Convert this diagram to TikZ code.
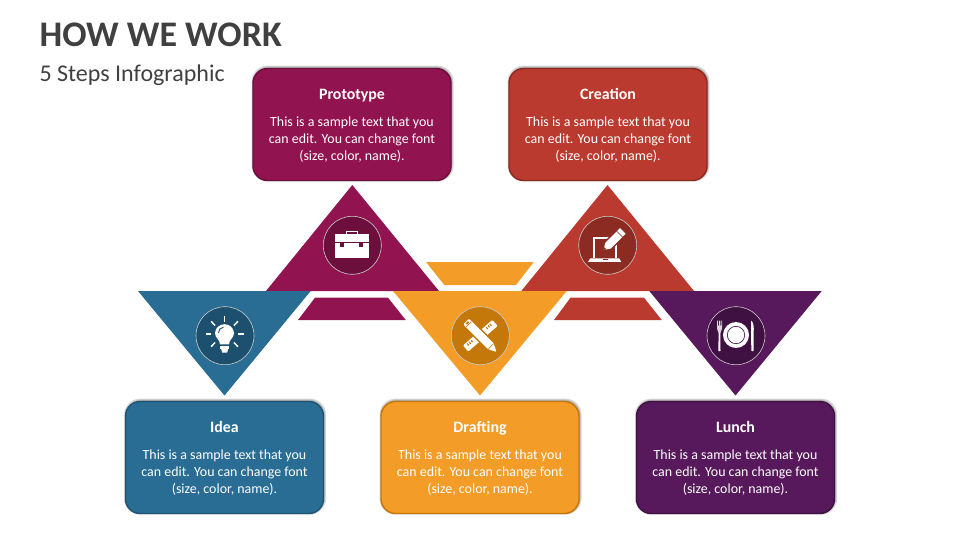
\documentclass[tikz,border=0pt]{standalone}
\usepackage{fontspec}
\setmainfont{Carlito}
\definecolor{cblue}{HTML}{296D95}\definecolor{dblue}{HTML}{1D506F}\definecolor{bblue}{HTML}{1F5472}
\definecolor{cmag}{HTML}{911450}\definecolor{dmag}{HTML}{6D0F3C}\definecolor{bmag}{HTML}{6D0F3C}
\definecolor{cred}{HTML}{BA3A2F}\definecolor{dred}{HTML}{8C2B22}\definecolor{bred}{HTML}{8C2B22}
\definecolor{corg}{HTML}{F39C27}\definecolor{dorg}{HTML}{C4780A}\definecolor{borg}{HTML}{C4780A}
\definecolor{cpur}{HTML}{57195B}\definecolor{dpur}{HTML}{3F1142}\definecolor{bpur}{HTML}{3F1142}
\definecolor{ink}{HTML}{404040}
\tikzset{
  x=0.75pt,y=-0.75pt,
  headline/.style={anchor=base west,text=ink,inner sep=0pt,font=\fontsize{27}{32}\selectfont\bfseries},
  subline/.style={anchor=base west,text=ink,inner sep=0pt,font=\fontsize{18}{22}\selectfont},
  card/.style={minimum width=148.5pt,minimum height=84pt,rounded corners=11pt,line width=1.1pt,inner sep=0pt},
  cardhalo/.style={fill=black,fill opacity=0.15,draw=none,rounded corners=12pt,inner sep=0pt},
  cardtitle/.style={anchor=base,text=white,inner sep=0pt,font=\fontsize{11.9}{14}\selectfont\bfseries},
  cardbody/.style={anchor=center,text=white,inner sep=0pt,align=center,font=\fontsize{10.45}{12.75}\selectfont},
  badge/.style={circle,minimum size=43.5pt,inner sep=0pt,draw=white!60!gray,line width=0.45pt},
  ray/.style={draw=white,line width=1.1pt,line cap=butt},
}
\newcommand{\stepcard}[7]{% name, cx, top, fill, border, title, title baseline offset
  \foreach \g in {2,1,0}
    \node[cardhalo,minimum width=148.5pt+1.5pt*\g,minimum height=84pt+1.5pt*\g] at ({#2+0.6},{#3+55.6}) {};
  \node[card,fill=#4,draw=#5] (#1) at (#2,{#3+56.5}) {};
  \node[cardtitle] (#1-title) at (#2,{#3+#7}) {#6};
  \node[cardbody] (#1-body) at (#2,{#3+72}) {This is a sample text that you\\can edit. You can change font\\(size, color, name).};
}
\begin{document}
\begin{tikzpicture}
\useasboundingbox (0,0) rectangle (960,540);
\fill[white] (0,0) rectangle (960,540);

\node[headline] (head) at (39.3,46) {HOW WE WORK};
\node[subline] (sub) at (39.3,81) {5 Steps Infographic};

% trapezoids
\fill[cmag] (315,297.7) -- (388,297.7) -- (405.7,320) -- (298,320) -- cycle;
\fill[corg] (426,262) -- (533.7,262) -- (516,285) -- (444.3,285) -- cycle;
\fill[cred] (570.5,297.7) -- (644,297.7) -- (661.7,320) -- (554,320) -- cycle;

% triangles
\fill[cmag] (352.3,185) -- (439,291) -- (266,291) -- cycle;
\fill[cred] (607.5,185) -- (694,291) -- (521.3,291) -- cycle;
\fill[cblue] (138,291) -- (310.7,291) -- (224.5,395.5) -- cycle;
\fill[corg] (393,291) -- (566.7,291) -- (480,395.5) -- cycle;
\fill[cpur] (649.3,291) -- (821.7,291) -- (735.5,395.5) -- cycle;

% cards
\stepcard{proto}{352}{68}{cmag}{bmag}{Prototype}{31}
\stepcard{creat}{608}{68}{cred}{bred}{Creation}{31.5}
\stepcard{idea}{224.5}{401}{cblue}{bblue}{Idea}{31.5}
\stepcard{draft}{480}{401}{corg}{borg}{Drafting}{31.5}
\stepcard{lunch}{735.5}{401}{cpur}{bpur}{Lunch}{31.5}

% badges
\node[badge,fill=dmag] (b-proto) at (352.3,245.3) {};
\node[badge,fill=dred] (b-creat) at (607.7,245.3) {};
\node[badge,fill=dblue] (b-idea) at (225,335.7) {};
\node[badge,fill=dorg] (b-draft) at (480.3,335.7) {};
\node[badge,fill=dpur] (b-lunch) at (736,335.7) {};

% bulb
\begin{scope}[shift={(b-idea.center)}]
  \foreach \a in {0,45,90,135,180,225,315}
    \draw[ray] ({-0.5+13.3*cos(\a)},{-1.7-12*sin(\a)}) -- ({-0.5+19*cos(\a)},{-1.7-18*sin(\a)});
  \fill[white] (-5,8.7) .. controls (-5,4) and (-10,2) .. (-10,-2.5)
     .. controls (-10,-8) and (-5,-11.5) .. (-0.5,-11.5)
     .. controls (4,-11.5) and (9,-8) .. (9,-2.5)
     .. controls (9,2) and (4,4) .. (4,8.7) -- cycle;
  \fill[white] (-4.7,10) rectangle (4,13);
  \fill[white] (-4,13) -- (3.3,13) -- (2,17) -- (-2.7,17) -- cycle;
  \draw[dblue,line width=0.7pt] (-6.5,-3) .. controls (-6.5,-6) and (-4.5,-8) .. (-1.5,-8.5);
\end{scope}

% briefcase
\begin{scope}[shift={(b-proto.center)}]
  \draw[white,line width=0.9pt] (-5.5,-11) rectangle (5.5,-14);
  \fill[white] (-17.3,-11.3) rectangle (17,12.7);
  \draw[dmag,line width=0.6pt] (-17.3,-2.6) -- (17,-2.6);
  \fill[dmag] (-12.3,-3) rectangle (-8.3,1.4);
  \fill[dmag] (6.7,-3) rectangle (10.7,1.4);
\end{scope}

% laptop and pencil
\begin{scope}[shift={(b-creat.center)}]
  \draw[white,line width=1.3pt] (3,-7) -- (-13.5,-7) -- (-13.5,13);
  \draw[white,line width=1.3pt] (8.5,-1) -- (8.5,13);
  \fill[white] (-17.5,13) -- (11.5,13) -- (13.5,16.5) -- (-19.5,16.5) -- cycle;
  \fill[dred] (-5,14) rectangle (0,15);
  \begin{scope}[shift={(-4,4.7)},rotate=45]
    \fill[dred] (-1,-5.5) rectangle (28,5.5);
    \fill[white] (0,0) -- (6,-4) -- (22,-4) -- (22,4) -- (6,4) -- cycle;
    \fill[white] (23,-4) rectangle (27,4);
    \fill[dred] (0,0) -- (2.5,-1.5) -- (2.5,1.5) -- cycle;
  \end{scope}
\end{scope}

% ruler and pencil
\begin{scope}[shift={(b-draft.center)}]
  \begin{scope}[rotate=41]
    \fill[white,rounded corners=0.8pt] (-19.5,-4) rectangle (19.5,4);
    \foreach \s in {-15,-12.5,-10,10,12.5,15}
      \fill[dorg] (\s-0.6,-2.6) rectangle (\s+0.6,-0.2);
  \end{scope}
  \begin{scope}[rotate=-45]
    \fill[dorg] (-15,-5.6) rectangle (16,5.6);
    \fill[white,rounded corners=0.8pt] (-20,-4) -- (15,-4) -- (23,0) -- (15,4) -- (-20,4) -- cycle;
    \fill[dorg] (-16.5,-3.6) rectangle (-15.8,3.6);
    \fill[dorg] (-19,-1.6) rectangle (-17.2,1.6);
    \draw[dorg,line width=0.3pt] (15,-3.5) -- (15,3.5);
  \end{scope}
\end{scope}

% plate, fork, knife
\begin{scope}[shift={(b-lunch.center)}]
  \fill[white] (0,-0.7) circle[radius=13];
  \draw[dpur,line width=0.5pt] (0,-0.7) circle[radius=8.7];
  \fill[white] (-15.7,-4) -- (-17.3,-4) -- (-17.7,15) .. controls (-17.5,15.8) and (-15.7,15.8) .. (-15.5,15) -- cycle;
  \fill[white!82!dpur] (-19,-15) -- (-18.2,-15) -- (-18.2,-10) -- (-17.2,-10) -- (-17.2,-15) -- (-15.6,-15) -- (-15.6,-10) -- (-14.7,-10) -- (-14.7,-15) -- (-14,-15) -- (-14,-7) -- (-15.5,-3) -- (-17.5,-3) -- (-19,-7) -- cycle;
  \fill[white] (15,-15) .. controls (17.5,-14) and (18,-9) .. (17.7,-3) -- (17.5,15) .. controls (17.3,15.8) and (15.5,15.8) .. (15.3,15) -- cycle;
\end{scope}
\end{tikzpicture}
\end{document}
